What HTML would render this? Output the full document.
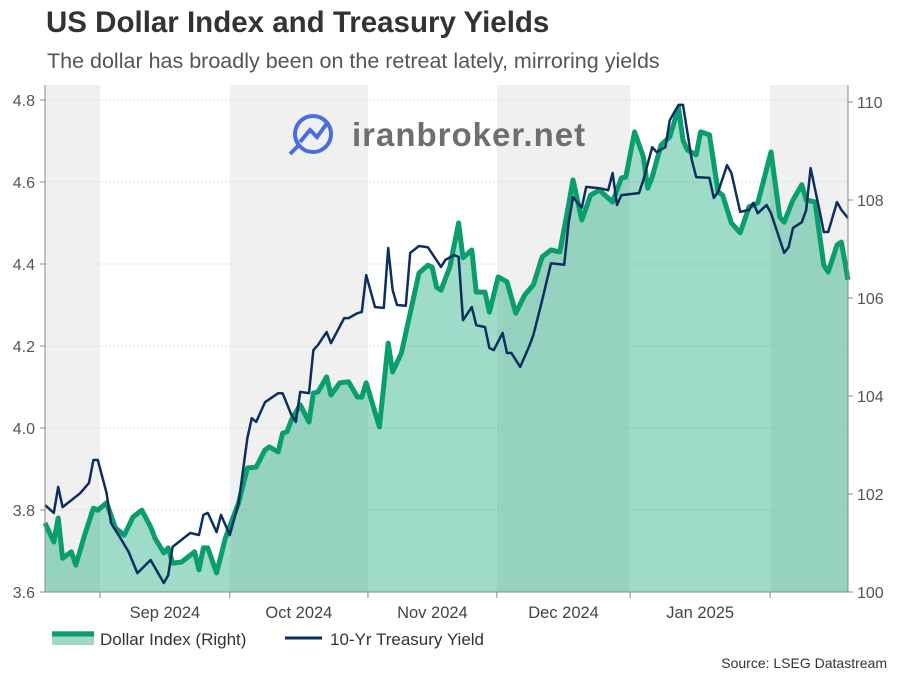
<!DOCTYPE html>
<html><head><meta charset="utf-8"><style>
body{margin:0;background:#fff;font-family:"Liberation Sans",Arial,sans-serif;}
svg text{font-family:"Liberation Sans",Arial,sans-serif;}
</style></head><body>
<svg id="chart" width="900" height="675" viewBox="0 0 900 675">
<text x="46" y="32" font-size="29.5" font-weight="bold" fill="#333">US Dollar Index and Treasury Yields</text>
<text x="47" y="68" font-size="21.5" fill="#555">The dollar has broadly been on the retreat lately, mirroring yields</text>
<g id="bands"></g><g id="grid"></g><g id="area"></g>
<g>
<circle cx="313" cy="134" r="18" fill="none" stroke="#4a6ee0" stroke-width="4"/>
<path d="M300 142 L310 130 L317 137 L328 122" stroke="#4a6ee0" stroke-width="4" fill="none"/>
<line x1="298" y1="146" x2="290" y2="154" stroke="#4a6ee0" stroke-width="4"/>
<text x="352" y="146" font-size="33" font-weight="bold" fill="#6e6e6e" letter-spacing="1">iranbroker.net</text>
</g>
<g id="lines"></g><g id="axes"></g>
<g>
<rect x="52" y="631" width="42" height="14" fill="#9fd8c4"/>
<line x1="52" y1="634" x2="94" y2="634" stroke="#0a9e6e" stroke-width="5"/>
<text x="100" y="645" font-size="17" fill="#333">Dollar Index (Right)</text>
<line x1="285" y1="638" x2="322" y2="638" stroke="#0d2f5f" stroke-width="3"/>
<text x="330" y="645" font-size="17" fill="#333">10-Yr Treasury Yield</text>
</g>
<text x="887" y="668" font-size="14" fill="#333" text-anchor="end">Source: LSEG Datastream</text>
</svg>
<script>
const monthLabels=["Sep 2024","Oct 2024","Nov 2024","Dec 2024","Jan 2025",""];
const monthDays=[12.5,42,73.4,102.7,133,164.8];
const leftTicks=[3.6,3.8,4.0,4.2,4.4,4.6,4.8];
const rightTicks=[100,102,104,106,108,110];
const yieldDays=[0,2,3,4,8,10,11,12,14,15,17,19,21,24,27,28,29,33,35,36,37,39,40,42,44,46,47,48,50,53,54,56,57,58,60,61,62,64,65,68,69,71,72,73,75,77,78,79,80,82,83,85,87,90,91,93,94,95,97,98,100,101,102,104,105,106,108,110,111,113,115,118,119,120,122,123,126,128,129,130,131,135,136,138,139,141,142,144,145,147,148,151,152,153,155,156,158,160,161,162,164,165,168,169,170,172,173,174,176,177,178,180,181,182.5];
const yieldVals=[3.812,3.793,3.856,3.807,3.841,3.866,3.922,3.922,3.841,3.768,3.734,3.698,3.646,3.678,3.622,3.641,3.710,3.744,3.739,3.788,3.793,3.746,3.788,3.739,3.817,3.976,4.024,4.015,4.063,4.085,4.085,4.032,4.015,4.088,4.085,4.190,4.202,4.234,4.207,4.268,4.268,4.280,4.283,4.373,4.295,4.293,4.439,4.337,4.300,4.298,4.427,4.444,4.441,4.393,4.410,4.422,4.417,4.263,4.295,4.251,4.246,4.195,4.190,4.232,4.183,4.183,4.149,4.198,4.227,4.312,4.402,4.398,4.500,4.563,4.537,4.588,4.585,4.580,4.622,4.544,4.568,4.573,4.605,4.685,4.673,4.685,4.751,4.788,4.788,4.654,4.612,4.610,4.561,4.576,4.641,4.622,4.527,4.532,4.549,4.524,4.544,4.524,4.427,4.441,4.488,4.502,4.532,4.634,4.532,4.478,4.478,4.551,4.532,4.512];
const dxyDays=[0,2,3,4,6,7,9,11,12,14,16,18,20,22,24,25,27,28,29,31,34,35,36,37,39,41,44,46,48,50,51,53,54,55,56,58,60,61,62,64,65,67,69,71,72,73,76,78,79,81,85,87,88,89,90,92,94,95,97,98,100,101,103,105,107,109,111,113,115,117,119,120,122,124,126,129,131,132,134,136,137,138,140,142,144,145,146,148,149,151,153,154,156,158,160,162,165,167,168,170,172,173,175,177,178,180,181,182.5];
const dxyVals=[101.41,101.02,101.51,100.69,100.82,100.55,101.16,101.71,101.67,101.82,101.31,101.16,101.53,101.67,101.33,101.10,100.80,100.90,100.59,100.61,100.82,100.45,100.90,100.90,100.39,101.10,101.82,102.53,102.55,102.90,102.96,102.86,103.24,103.27,103.51,103.82,103.47,104.06,104.08,104.39,104.02,104.27,104.29,103.98,103.98,104.27,103.37,105.08,104.49,104.88,106.51,106.67,106.63,106.22,106.16,106.63,107.53,106.82,106.98,106.12,106.12,105.71,106.43,106.33,105.69,106.06,106.27,106.84,106.98,106.94,107.90,108.41,107.59,108.10,108.20,107.96,108.45,108.47,109.39,108.88,108.24,108.47,109.12,109.29,109.88,109.22,109.02,108.92,109.39,109.33,108.16,108.10,107.53,107.33,107.86,107.94,108.98,107.65,107.55,108.00,108.31,108.00,107.96,106.67,106.53,107.08,107.14,106.37];
const X0=45,X1=848,Y0=592;
const xS=d=>X0+d*(X1-X0)/182.5;
const yL=v=>Y0-(v-3.6)*410;
const yR=v=>Y0-(v-100)*49;
const NS="http://www.w3.org/2000/svg";
function mk(parent,tag,attrs){const e=document.createElementNS(NS,tag);for(const k in attrs)e.setAttribute(k,attrs[k]);document.getElementById(parent).appendChild(e);return e;}
const bandEdges=[0].concat(monthDays).concat([182.5]);
for(let i=0;i<bandEdges.length-1;i+=2){
 const r=mk('bands','rect',{x:xS(bandEdges[i]),y:85,width:xS(bandEdges[i+1])-xS(bandEdges[i]),height:Y0-85,fill:'#f0f0f0'});
 
 
}
leftTicks.forEach(v=>{
 const g=mk('grid','line',{x1:X0,x2:X1,y1:yL(v),y2:yL(v),stroke:'#ddd','stroke-dasharray':'2,2'});
 
 
 const t=mk('axes','text',{x:35,y:yL(v)+6,'font-size':16,fill:'#555','text-anchor':'end'});
 t.textContent=v.toFixed(1);
 
 
 mk('axes','line',{x1:X0-5,x2:X0,y1:yL(v),y2:yL(v),stroke:'#888'});
});
rightTicks.forEach(v=>{
 const t=mk('axes','text',{x:857,y:yR(v)+6,'font-size':16,fill:'#555'});
 t.textContent=v;
 
 
 mk('axes','line',{x1:X1,x2:X1+5,y1:yR(v),y2:yR(v),stroke:'#888'});
});
mk('axes','line',{x1:X0,x2:X0,y1:85,y2:Y0,stroke:'#888'});
mk('axes','line',{x1:X1,x2:X1,y1:85,y2:Y0,stroke:'#888'});
mk('axes','line',{x1:X0,x2:X1,y1:Y0,y2:Y0,stroke:'#888'});
monthDays.forEach((d,i)=>{
 mk('axes','line',{x1:xS(d),x2:xS(d),y1:Y0,y2:Y0+6,stroke:'#888'});
 const nd=i+1<monthDays.length?monthDays[i+1]:182.5;
 if(monthLabels[i]){
 const t=mk('axes','text',{x:(xS(d)+xS(nd))/2,y:618,'font-size':16.5,fill:'#444','text-anchor':'middle'});
 t.textContent=monthLabels[i];
 
 
 }
});
let dp=dxyDays.map((d,i)=>xS(d).toFixed(1)+','+yR(dxyVals[i]).toFixed(1));
const ar=mk('area','path',{d:'M'+xS(dxyDays[0])+','+Y0+' L'+dp.join(' L')+' L'+xS(dxyDays[dxyDays.length-1])+','+Y0+'Z',fill:'rgba(0,160,110,0.38)'});


const dl=mk('lines','path',{d:'M'+dp.join(' L'),fill:'none',stroke:'#0a9e6e','stroke-width':5,'stroke-linejoin':'round'});


const yp=yieldDays.map((d,i)=>xS(d).toFixed(1)+','+yL(yieldVals[i]).toFixed(1));
const yl=mk('lines','path',{d:'M'+yp.join(' L'),fill:'none',stroke:'#0d2f5f','stroke-width':2.5,'stroke-linejoin':'round'});


</script>
</body></html>
